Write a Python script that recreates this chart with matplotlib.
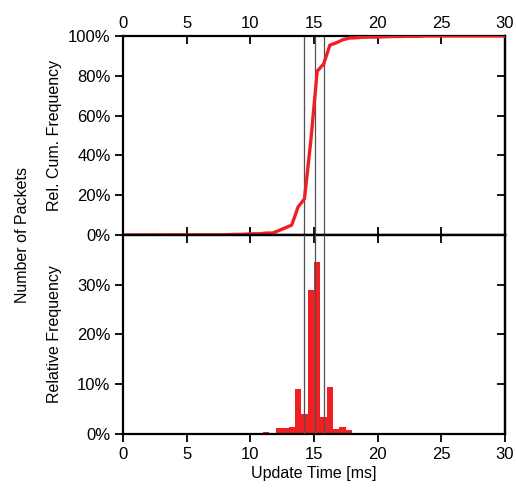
import matplotlib
matplotlib.use("Agg")
import matplotlib.pyplot as plt
import numpy as np
from matplotlib.ticker import PercentFormatter

plt.rcParams['font.family'] = ['Liberation Sans', 'DejaVu Sans']
plt.rcParams['font.size'] = 11.5

# histogram bins: left edges [ms] and relative frequency [%]
bin_left = [8.0, 8.5, 9.0, 9.5, 10.0, 10.5, 11.0, 11.5, 12.0, 12.5, 13.0,
            13.5, 14.0, 14.5, 15.0, 15.5, 16.0, 16.5, 17.0, 17.5, 18.0,
            18.5, 19.0, 19.5, 20.0, 20.5, 21.0, 21.5, 22.0, 22.5, 23.0,
            23.5, 24.0]
rel_freq = [0.1, 0.2, 0.0, 0.15, 0.15, 0.0, 0.35, 0.0, 1.3, 1.3, 1.4,
            9.0, 4.0, 29.0, 34.5, 3.5, 9.5, 1.1, 1.5, 0.85, 0.15,
            0.25, 0.1, 0.0, 0.1, 0.1, 0.1, 0.0, 0.1, 0.0, 0.0,
            0.15, 0.0]
bin_width = 0.5

# mean and +/- std markers [ms]
marker_lines = [14.2, 15.05, 15.8]

RED = '#ee2024'
LINE_GREY = '#505050'

bin_left = np.array(bin_left)
rel_freq = np.array(rel_freq)
bin_center = bin_left + bin_width / 2
cum_freq = np.cumsum(rel_freq) / rel_freq.sum() * 100
cum_x = np.concatenate([[0], bin_center, [30]])
cum_y = np.concatenate([[0], cum_freq, [100]])

fig = plt.figure(figsize=(5.16, 4.95), dpi=100)
ax_top = fig.add_axes([0.2384, 0.5253, 0.7403, 0.4020])
ax_bot = fig.add_axes([0.2384, 0.1232, 0.7403, 0.4021])

tick_kw = dict(length=5.5, width=1.3, labelsize=12)

# cumulative
ax_top.plot(cum_x, cum_y, color=RED, lw=2.4, zorder=3)
for x in marker_lines:
    ax_top.axvline(x, color=LINE_GREY, lw=0.9, zorder=2)
ax_top.set_xlim(0, 30)
ax_top.set_ylim(0, 100)
ax_top.set_xticks(range(0, 31, 5))
ax_top.set_yticks(range(0, 101, 20))
ax_top.yaxis.set_major_formatter(PercentFormatter(decimals=0))
ax_top.tick_params(axis='x', direction='in', top=True, bottom=True,
                   labeltop=True, labelbottom=False, **tick_kw)
ax_top.tick_params(axis='y', direction='out', **tick_kw)
ax_top.set_ylabel('Rel. Cum. Frequency')
ax_top.yaxis.set_label_coords(-0.16, 0.5)
sec = ax_top.secondary_yaxis('right')
sec.set_yticks(range(0, 101, 20))
sec.tick_params(direction='in', length=5.5, width=1.3, labelright=False)

# histogram
ax_bot.bar(bin_left, rel_freq, width=bin_width, align='edge',
           color=RED, edgecolor='none', zorder=2)
for x in marker_lines:
    ax_bot.axvline(x, color=LINE_GREY, lw=0.9, zorder=3)
ax_bot.set_xlim(0, 30)
ax_bot.set_ylim(0, 40)
ax_bot.set_xticks(range(0, 31, 5))
ax_bot.set_yticks([0, 10, 20, 30])
ax_bot.yaxis.set_major_formatter(PercentFormatter(decimals=0))
ax_bot.tick_params(axis='x', direction='out', **tick_kw)
ax_bot.tick_params(axis='y', direction='out', **tick_kw)
ax_bot.set_ylabel('Relative Frequency')
ax_bot.yaxis.set_label_coords(-0.16, 0.5)
ax_bot.set_xlabel('Update Time [ms]', labelpad=3)
sec_x = ax_bot.secondary_xaxis('top')
sec_x.set_xticks(range(0, 31, 5))
sec_x.tick_params(direction='in', length=5.5, width=1.3, labeltop=False)
sec_y = ax_bot.secondary_yaxis('right')
sec_y.set_yticks([0, 10, 20, 30])
sec_y.tick_params(direction='in', length=5.5, width=1.3, labelright=False)

for ax in (ax_top, ax_bot, sec, sec_x, sec_y):
    for sp in ax.spines.values():
        sp.set_linewidth(1.6)

fig.text(0.043, 0.525, 'Number of Packets', rotation=90,
         ha='center', va='center')

fig.savefig('out.png', dpi=100)
